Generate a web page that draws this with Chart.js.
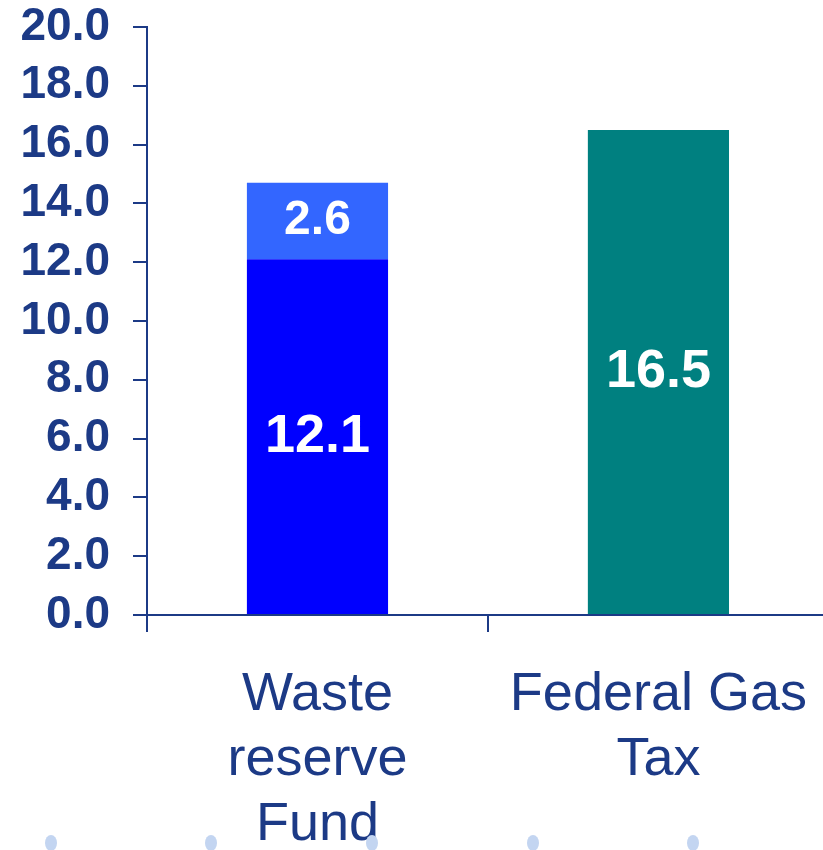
<!DOCTYPE html>
<html>
<head>
<meta charset="utf-8">
<script src="https://cdn.jsdelivr.net/npm/chart.js@4/dist/chart.umd.min.js"></script>
<style>
  html, body { margin: 0; padding: 0; background: #fff; overflow: hidden; }
  #wrap { position: relative; width: 838px; height: 850px; }
  .dot { position: absolute; width: 12px; height: 16px; border-radius: 50%; background: #c3d5f1; top: 835px; }
</style>
</head>
<body>
<div id="wrap">
  <canvas id="fundChart" width="838" height="850"></canvas>
  <div class="dot" style="left:45px"></div>
  <div class="dot" style="left:205px"></div>
  <div class="dot" style="left:366px"></div>
  <div class="dot" style="left:527px"></div>
  <div class="dot" style="left:687px"></div>
</div>
<script>
const categories = [["Waste", "reserve", "Fund"], ["Federal Gas", "Tax"]];
const baseValues = [12.1, 16.5];
const topValues = [2.6, null];
const baseColors = ["#0000ff", "#008080"];
const topColors = ["#3366ff", "#3366ff"];
const yTicks = { min: 0, max: 20, step: 2 };

const navy = "#1c3a86";
const fontFamily = "'Liberation Sans', Arial, sans-serif";

/* ---------- value labels inside the bars ---------- */

const barLabels = {
  id: "barLabels",
  afterDatasetsDraw(chart) {
    const ctx = chart.ctx;
    ctx.save();
    ctx.fillStyle = "#ffffff";
    ctx.textAlign = "center";
    ctx.textBaseline = "middle";
    chart.data.datasets.forEach((ds, di) => {
      const meta = chart.getDatasetMeta(di);
      const size = di === 0 ? 54 : 48;
      ctx.font = `bold ${size}px ${fontFamily}`;
      meta.data.forEach((bar, i) => {
        const v = ds.data[i];
        if (v == null) return;
        const { x, y, base } = bar.getProps(["x", "y", "base"], true);
        ctx.fillText(v.toFixed(1), x, (y + base) / 2);
      });
    });
    ctx.restore();
  }
};

/* ---------- chart ---------- */

new Chart(document.getElementById("fundChart"), {
  type: "bar",
  data: {
    labels: categories,
    datasets: [
      { data: baseValues, backgroundColor: baseColors, barPercentage: 0.414, categoryPercentage: 1 },
      { data: topValues, backgroundColor: topColors, barPercentage: 0.414, categoryPercentage: 1 }
    ]
  },
  options: {
    responsive: false,
    animation: false,
    layout: { padding: 0 },
    plugins: { legend: { display: false }, tooltip: { enabled: false } },
    scales: {
      x: {
        stacked: true,
        afterFit(scale) { scale.height = 235; },
        border: { display: true, color: navy, width: 2 },
        grid: { drawOnChartArea: false, drawTicks: true, tickLength: 17, color: navy, lineWidth: 2 },
        ticks: {
          color: navy,
          padding: 31,
          maxRotation: 0,
          autoSkip: false,
          font: { family: fontFamily, size: 54, lineHeight: 1.2 }
        }
      },
      y: {
        stacked: true,
        min: yTicks.min,
        max: yTicks.max,
        afterFit(scale) {
          scale.width = 147;
          scale.paddingTop = 27;
          scale.paddingBottom = 0;
        },
        border: { display: true, color: navy, width: 2 },
        grid: { drawOnChartArea: false, drawTicks: true, tickLength: 14, color: navy, lineWidth: 2 },
        ticks: {
          stepSize: yTicks.step,
          autoSkip: false,
          color: navy,
          padding: 23,
          font: { family: fontFamily, size: 46, weight: "bold", lineHeight: 1.16 },
          callback: v => v.toFixed(1)
        }
      }
    }
  },
  plugins: [barLabels]
});
</script>
</body>
</html>
